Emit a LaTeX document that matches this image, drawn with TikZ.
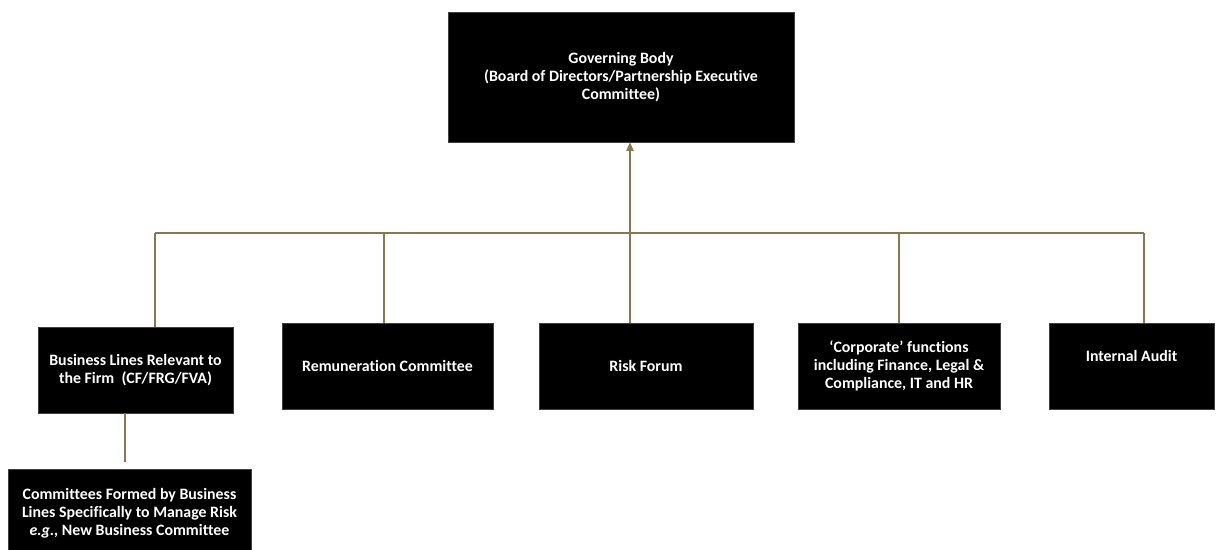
\documentclass[tikz,border=0pt]{standalone}
\usepackage{fontspec}
\setmainfont{Carlito}[Ligatures=NoCommon]
\usetikzlibrary{positioning,arrows.meta}

\definecolor{linkbrown}{RGB}{140,118,78}

\tikzset{
  orgbox/.style={fill=black, draw=black!75, line width=0.4pt, text=white,
    font=\fontsize{11.9}{13.6}\selectfont\bfseries, align=center,
    inner sep=0pt},
  link/.style={draw=linkbrown, line width=0.9pt}
}

\begin{document}
\begin{tikzpicture}[x=0.75pt, y=-0.75pt]
\useasboundingbox (0,0) rectangle (1226,549);

% the board on top
\node[orgbox, minimum width=259.5pt, minimum height=97.5pt] (gov) at (621,77)
  {Governing Body\\(Board of Directors/Partnership Executive\\Committee)};

% the row of reporting bodies
\node[orgbox, minimum width=146.25pt, minimum height=64.5pt] (bizlines) at (135.5,370)
  {Business Lines Relevant to\\the Firm~~(CF/FRG/FVA)};
\node[orgbox, minimum width=158.25pt, minimum height=64.5pt] (remco) at (387.5,366)
  {Remuneration Committee};
\node[orgbox, minimum width=160.5pt, minimum height=64.5pt] (riskforum) at (646,366)
  {Risk Forum};
\node[orgbox, minimum width=151.5pt, minimum height=64.5pt] (corporate) at (899,366)
  {‘Corporate’ functions\\including Finance, Legal \&\\Compliance, IT and HR};
\node[orgbox, minimum width=123.75pt, minimum height=64.5pt, text depth=15pt] (audit) at (1131.5,366)
  {Internal Audit};

\node[orgbox, minimum width=182.25pt, minimum height=66pt] (bizcom) at (129.5,513)
  {Committees Formed by Business\\Lines Specifically to Manage Risk\\\textit{e.g.,} New Business Committee};

% where the lines meet the bus
\coordinate (bizl)   at (155,233);
\coordinate (remcol) at (384,233);
\coordinate (riskl)  at (630,233);
\coordinate (corpl)  at (899,233);
\coordinate (auditl) at (1144,233);
\coordinate (bizcoml) at (125,462);

\draw[link] (bizl) -- (auditl);
\draw[link] (bizl) -- (bizl |- bizlines.north);
\draw[link] (remcol) -- (remcol |- remco.north);
\draw[link] (riskl) -- (riskl |- riskforum.north);
\draw[link] (corpl) -- (corpl |- corporate.north);
\draw[link] (auditl) -- (auditl |- audit.north);
\draw[link, -{Triangle[width=5.5pt, length=6.5pt]}] (riskl) -- (riskl |- gov.south);

\draw[link] (bizcoml |- bizlines.south) -- (bizcoml);
\end{tikzpicture}
\end{document}
